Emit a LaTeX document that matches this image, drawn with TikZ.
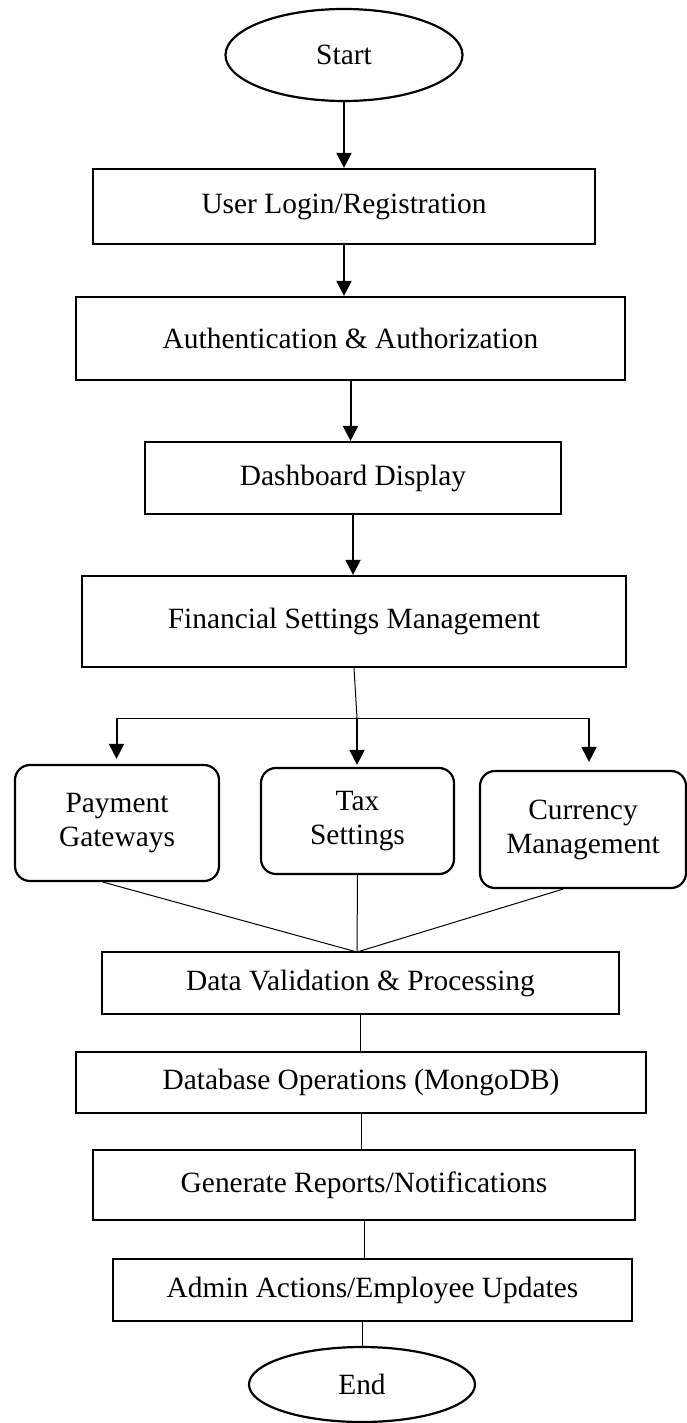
\documentclass[tikz,border=0pt]{standalone}
\usepackage{fontspec}
\setmainfont{Liberation Serif}
\usetikzlibrary{shapes.geometric,arrows.meta}
\begin{document}
\begin{tikzpicture}[x=0.5pt,y=-0.5pt,
  every node/.style={font=\fontsize{14.7}{17}\selectfont,align=center,inner sep=0pt},
  terminal/.style={draw,ellipse,line width=1.1pt},
  process/.style={draw,rectangle,line width=1.1pt},
  option/.style={draw,rectangle,rounded corners=7.5pt,line width=1.1pt},
  arr/.style={line width=1pt,-{Triangle[length=7.5pt,width=7.5pt]}},
  link/.style={line width=0.5pt}]
\useasboundingbox (0,0) rectangle (686,1423);

% main column
\node[terminal,minimum width=118.5pt,minimum height=46pt] (start) at (344,55) {Start};
\node[process,minimum width=251pt,minimum height=37.5pt] (login) at (344,206.5) {User Login/Registration};
\node[process,minimum width=274.5pt,minimum height=41.5pt] (auth) at (350.5,338.5) {Authentication \& Authorization};
\node[process,minimum width=208pt,minimum height=36pt] (dash) at (353,478) {Dashboard Display};
\node[process,minimum width=272pt,minimum height=45.5pt] (fin) at (354,621.5) {Financial Settings Management};

% settings options
\node[option,minimum width=102pt,minimum height=58pt] (pay) at (117,823) {Payment\\Gateways};
\node[option,minimum width=96.5pt,minimum height=53pt] (tax) at (357.5,821) {Tax\\Settings};
\node[option,minimum width=103pt,minimum height=58.5pt] (cur) at (583,829.5) {Currency\\Management};

\node[process,minimum width=258.5pt,minimum height=31pt] (valid) at (360.5,983) {Data Validation \& Processing};
\node[process,minimum width=285pt,minimum height=30.5pt] (db) at (361,1082.5) {Database Operations (MongoDB)};
\node[process,minimum width=271pt,minimum height=35pt] (rep) at (364,1185) {Generate Reports/Notifications};
\node[process,minimum width=259.5pt,minimum height=31pt] (admin) at (372.5,1290) {Admin Actions/Employee Updates};
\node[terminal,minimum width=113pt,minimum height=37.5pt] (end) at (362,1384.5) {End};

\draw[arr] (start.south) -- (login.north);
\draw[arr] (login.south) -- (login.south |- auth.north);
\draw[arr] (auth.south) -- (auth.south |- dash.north);
\draw[arr] (dash.south) -- (dash.south |- fin.north);

% split
\coordinate (split) at (357,718);
\coordinate (splitL) at (116.5,718);
\coordinate (splitR) at (589,718);
\draw[link] (fin.south) -- (split);
\draw[link] (splitL) -- (splitR);
\draw[arr,shorten >=2.5pt] (splitL) -- (splitL |- pay.north);
\draw[arr,shorten >=1pt] (split) -- (split |- tax.north);
\draw[arr,shorten >=4pt] (splitR) -- (splitR |- cur.north);

% merge
\coordinate (merge) at (357,952);
\draw[link] ([xshift=-7pt]pay.south) -- (merge);
\draw[link] (tax.south) -- (merge);
\draw[link] ([xshift=-10pt]cur.south) -- (merge);

\draw[link] (valid.south) -- (valid.south |- db.north);
\draw[link] (db.south) -- (db.south |- rep.north);
\draw[link] (rep.south) -- (rep.south |- admin.north);
\draw[link] (end.north |- admin.south) -- (end.north);
\end{tikzpicture}
\end{document}
